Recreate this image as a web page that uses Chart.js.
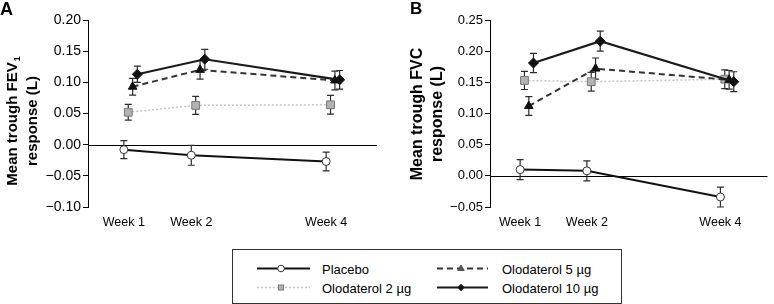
<!DOCTYPE html>
<html><head><meta charset="utf-8">
<script src="https://cdn.jsdelivr.net/npm/chart.js@4"></script>
<style>
html,body{margin:0;padding:0;background:#fff;}
#wrap{position:relative;width:774px;height:304px;overflow:hidden;font-family:"Liberation Sans",Arial,sans-serif;color:#000;}
canvas{position:absolute;top:0;}
#cA{left:0}
#cB{left:390px}
.panel{position:absolute;font-weight:bold;line-height:1;}
#legend{position:absolute;left:232px;top:249px;width:390px;height:55px;border:1px solid #333;box-sizing:border-box;}
#legend svg{position:absolute;left:0;top:0;}
.lt{position:absolute;font-size:13px;line-height:1;transform:translateY(-50%);white-space:nowrap;}
</style></head>
<body>
<div id="wrap">
  <canvas id="cA" width="390" height="240"></canvas>
  <canvas id="cB" width="384" height="240"></canvas>
  <div class="panel" style="left:0px;top:0px;font-size:18px;">A</div>
  <div class="panel" style="left:410px;top:0px;font-size:17px;">B</div>
  <div id="legend"></div>
</div>
<script>
// ---------- data ----------
const weeks = [1, 2, 4];
const weekPrefix = 'Week ';
const seriesNames = ['Placebo', 'Olodaterol 2 \u00b5g', 'Olodaterol 5 \u00b5g', 'Olodaterol 10 \u00b5g'];

// Panel A: mean trough FEV1 response (L)
const fev1Placebo   = [-0.008, -0.017, -0.027];
const fev1Olo2      = [0.052, 0.063, 0.064];
const fev1Olo5      = [0.093, 0.120, 0.103];
const fev1Olo10     = [0.113, 0.137, 0.104];
const fev1PlaceboSE = [0.0145, 0.016, 0.015];
const fev1Olo2SE    = [0.0125, 0.0145, 0.015];
const fev1Olo5SE    = [0.0135, 0.015, 0.015];
const fev1Olo10SE   = [0.013, 0.016, 0.015];
const fev1Ticks     = [-0.10, -0.05, 0.00, 0.05, 0.10, 0.15, 0.20];

// Panel B: mean trough FVC response (L)
const fvcPlacebo   = [0.010, 0.008, -0.034];
const fvcOlo2      = [0.153, 0.151, 0.155];
const fvcOlo5      = [0.112, 0.172, 0.154];
const fvcOlo10     = [0.181, 0.216, 0.151];
const fvcPlaceboSE = [0.016, 0.016, 0.016];
const fvcOlo2SE    = [0.0145, 0.015, 0.015];
const fvcOlo5SE    = [0.015, 0.017, 0.015];
const fvcOlo10SE   = [0.0155, 0.016, 0.016];
const fvcTicks     = [-0.05, 0.00, 0.05, 0.10, 0.15, 0.20, 0.25];

// ---------- styles ----------
const FONT = '"Liberation Sans", Arial, sans-serif';
Chart.defaults.font.family = FONT;
Chart.defaults.color = '#000';
const dodge = [0, 0.065, 0.13, 0.2];
const styles = [
  {borderColor:'#111', borderWidth:2, borderDash:[], pointStyle:'circle', pointRadius:4, pointBackgroundColor:'#fff', pointBorderColor:'#333', pointBorderWidth:1, order:3},
  {borderColor:'#c6c6c6', borderWidth:1.5, borderDash:[2,2], pointStyle:'rect', pointRadius:5.5, pointBackgroundColor:'#b3b3b3', pointBorderColor:'#777', pointBorderWidth:1, order:2},
  {borderColor:'#333', borderWidth:2, borderDash:[6,4], pointStyle:'triangle', pointRadius:5, pointBackgroundColor:'#111', pointBorderColor:'#111', pointBorderWidth:1, order:1},
  {borderColor:'#1a1a1a', borderWidth:2.2, borderDash:[], pointStyle:'rectRot', pointRadius:5, pointBackgroundColor:'#111', pointBorderColor:'#111', pointBorderWidth:1, order:0}
];
const fmt = v => (v < -1e-9 ? '\u2212' : '') + Math.abs(v).toFixed(2);

const errorBars = {
  id: 'errorBars',
  beforeDatasetsDraw(chart) {
    const ctx = chart.ctx, ys = chart.scales.y, a = chart.chartArea;
    ctx.save();
    ctx.strokeStyle = '#000'; ctx.lineWidth = 1;
    const y0 = Math.round(ys.getPixelForValue(0)) + 0.5;
    ctx.beginPath(); ctx.moveTo(a.left, y0); ctx.lineTo(a.right, y0); ctx.stroke();
    chart.data.datasets.forEach((ds, i) => {
      const meta = chart.getDatasetMeta(i);
      ctx.strokeStyle = '#2b2b2b'; ctx.lineWidth = 1.2;
      meta.data.forEach((pt, j) => {
        const v = ds.data[j].y, e = ds.errors[j];
        const t = ys.getPixelForValue(v + e), b = ys.getPixelForValue(v - e), x = pt.x;
        ctx.beginPath();
        ctx.moveTo(x, t); ctx.lineTo(x, b);
        ctx.moveTo(x - 3.5, t); ctx.lineTo(x + 3.5, t);
        ctx.moveTo(x - 3.5, b); ctx.lineTo(x + 3.5, b);
        ctx.stroke();
      });
    });
    ctx.restore();
  }
};

const yTitle = {
  id: 'yTitle',
  afterDraw(chart, args, o) {
    const ctx = chart.ctx;
    ctx.save();
    ctx.fillStyle = '#000';
    o.lines.forEach((ln, k) => {
      ctx.save();
      ctx.translate(o.x[k], o.y);
      ctx.rotate(-Math.PI / 2);
      ctx.textBaseline = 'middle';
      ctx.textAlign = 'left';
      const mainF = 'bold ' + o.size + 'px ' + FONT;
      const subF = 'bold ' + Math.round(o.size * 0.62) + 'px ' + FONT;
      ctx.font = mainF; const w1 = ctx.measureText(ln.text).width;
      let w2 = 0;
      if (ln.sub) { ctx.font = subF; w2 = ctx.measureText(ln.sub).width + 1; }
      const x0 = -(w1 + w2) / 2;
      ctx.font = mainF; ctx.fillText(ln.text, x0, 0);
      if (ln.sub) { ctx.font = subF; ctx.fillText(ln.sub, x0 + w1 + 1, o.size * 0.3); }
      ctx.restore();
    });
    ctx.restore();
  }
};

function makeChart(id, vals, errs, ticks, c) {
  const datasets = vals.map((arr, s) => Object.assign({
    label: seriesNames[s],
    data: arr.map((v, j) => ({x: weeks[j] + dodge[s], y: v})),
    errors: errs[s],
    fill: false, tension: 0, showLine: true
  }, styles[s]));
  return new Chart(document.getElementById(id), {
    type: 'scatter',
    data: {datasets},
    plugins: [errorBars, yTitle],
    options: {
      responsive: false, animation: false,
      layout: {padding: {top: 20, right: c.padRight, left: 0, bottom: 0}},
      plugins: {legend: {display: false}, tooltip: {enabled: false}, yTitle: c.title},
      scales: {
        x: {
          type: 'linear', min: c.xmin, max: c.xmax,
          afterBuildTicks: ax => { ax.ticks = weeks.map(v => ({value: v})); },
          ticks: {callback: v => weekPrefix + v, font: {size: 12.5}, padding: 8, maxRotation: 0, autoSkip: false},
          grid: {display: false, drawTicks: false},
          border: {display: false},
          afterFit: s => { s.height = 33; }
        },
        y: {
          min: ticks[0], max: ticks[ticks.length - 1],
          afterBuildTicks: ax => { ax.ticks = ticks.map(v => ({value: v})); },
          ticks: {callback: v => fmt(v), font: {size: c.tickSize}, padding: 2, autoSkip: false},
          grid: {drawOnChartArea: false, drawTicks: true, tickLength: 5, color: '#000', lineWidth: 1},
          border: {display: true, color: '#000', width: 1},
          afterFit: s => { s.width = c.yw; }
        }
      }
    }
  });
}

makeChart('cA',
  [fev1Placebo, fev1Olo2, fev1Olo5, fev1Olo10],
  [fev1PlaceboSE, fev1Olo2SE, fev1Olo5SE, fev1Olo10SE],
  fev1Ticks,
  {xmin: 0.468, xmax: 4.754, padRight: 13, yw: 88, tickSize: 14,
   title: {lines: [{text: 'Mean trough FEV', sub: '1'}, {text: 'response (L)'}], x: [13, 33], y: 121, size: 15}});

makeChart('cB',
  [fvcPlacebo, fvcOlo2, fvcOlo5, fvcOlo10],
  [fvcPlaceboSE, fvcOlo2SE, fvcOlo5SE, fvcOlo10SE],
  fvcTicks,
  {xmin: 0.549, xmax: 4.705, padRight: 1, yw: 100, tickSize: 13,
   title: {lines: [{text: 'Mean trough FVC'}, {text: 'response (L)'}], x: [28, 48], y: 114, size: 16}});

// ---------- legend ----------
(function () {
  const lg = document.getElementById('legend');
  const NS = 'http://www.w3.org/2000/svg';
  const svg = document.createElementNS(NS, 'svg');
  svg.setAttribute('width', 390); svg.setAttribute('height', 55);
  lg.appendChild(svg);
  const items = [
    {col: 0, row: 0, s: 0}, {col: 0, row: 1, s: 1},
    {col: 1, row: 0, s: 2}, {col: 1, row: 1, s: 3}
  ];
  const colX = [[24, 77, 48, 89], [204, 255, 228, 269]];
  const rowY = [18.5, 37.5];
  items.forEach(it => {
    const st = styles[it.s];
    const [x1, x2, mx, tx] = colX[it.col];
    const y = rowY[it.row];
    const ln = document.createElementNS(NS, 'line');
    ln.setAttribute('x1', x1); ln.setAttribute('x2', x2);
    ln.setAttribute('y1', y); ln.setAttribute('y2', y);
    ln.setAttribute('stroke', st.borderColor);
    ln.setAttribute('stroke-width', st.borderWidth);
    if (st.borderDash.length) ln.setAttribute('stroke-dasharray', st.borderDash.join(' '));
    svg.appendChild(ln);
    let m;
    if (st.pointStyle === 'circle') {
      m = document.createElementNS(NS, 'circle');
      m.setAttribute('cx', mx); m.setAttribute('cy', y); m.setAttribute('r', 3.3);
    } else if (st.pointStyle === 'rect') {
      m = document.createElementNS(NS, 'rect');
      m.setAttribute('x', mx - 2.5); m.setAttribute('y', y - 2.5); m.setAttribute('width', 5); m.setAttribute('height', 5);
    } else if (st.pointStyle === 'triangle') {
      m = document.createElementNS(NS, 'polygon');
      m.setAttribute('points', `${mx},${y-3.5} ${mx+3.2},${y+2} ${mx-3.2},${y+2}`);
    } else {
      m = document.createElementNS(NS, 'polygon');
      m.setAttribute('points', `${mx},${y-3.3} ${mx+3},${y} ${mx},${y+3.3} ${mx-3},${y}`);
    }
    m.setAttribute('fill', it.s === 2 ? '#555' : st.pointBackgroundColor);
    m.setAttribute('stroke', it.s === 2 ? '#555' : st.pointBorderColor);
    m.setAttribute('stroke-width', 1);
    svg.appendChild(m);
    const t = document.createElement('div');
    t.className = 'lt';
    t.style.left = tx + 'px'; t.style.top = y + 'px';
    t.textContent = seriesNames[it.s];
    lg.appendChild(t);
  });
})();
</script>
</body></html>
